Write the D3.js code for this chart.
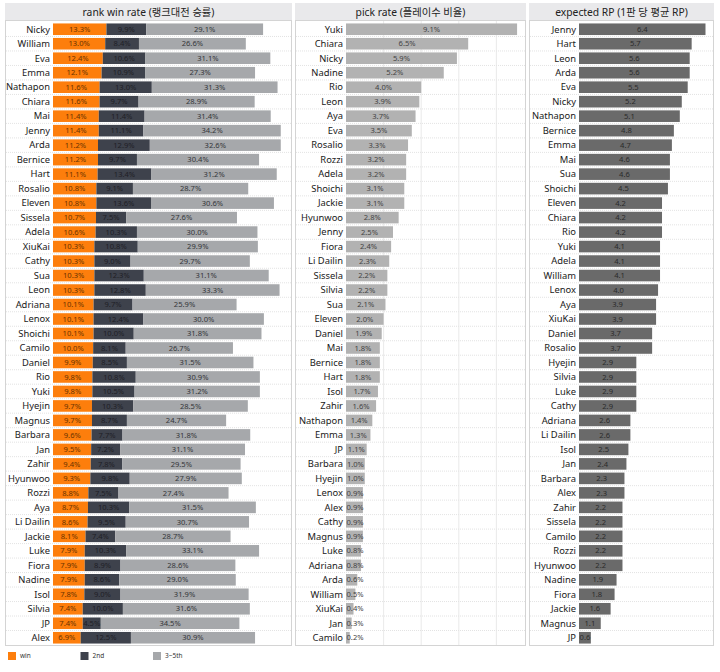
<!DOCTYPE html>
<html>
<head>
<meta charset="utf-8">
<title>rank stats</title>
<style>
  body { margin: 0; background: #fff; }
  text { font-family: "Noto Sans", "Noto Sans CJK KR", sans-serif; }
</style>
</head>
<body>
<script src="https://d3js.org/d3.v7.min.js"></script>
<svg width="720" height="672" id="mainsvg"></svg>
<script>
// rank win rate panel
const rankNames = ["Nicky","William","Eva","Emma","Nathapon","Chiara","Mai","Jenny","Arda","Bernice","Hart","Rosalio","Eleven","Sissela","Adela","XiuKai","Cathy","Sua","Leon","Adriana","Lenox","Shoichi","Camilo","Daniel","Rio","Yuki","Hyejin","Magnus","Barbara","Jan","Zahir","Hyunwoo","Rozzi","Aya","Li Dailin","Jackie","Luke","Fiora","Nadine","Isol","Silvia","JP","Alex"];
const winPct = [13.3,13.0,12.4,12.1,11.6,11.6,11.4,11.4,11.2,11.2,11.1,10.8,10.8,10.7,10.6,10.3,10.3,10.3,10.3,10.1,10.1,10.1,10.0,9.9,9.8,9.8,9.7,9.7,9.6,9.5,9.4,9.3,8.8,8.7,8.6,8.1,7.9,7.9,7.9,7.8,7.4,7.4,6.9];
const secondPct = [9.9,8.4,10.6,10.9,13.0,9.7,11.4,11.1,12.9,9.7,13.4,9.1,13.6,7.5,10.3,10.8,9.0,12.3,12.8,9.7,12.4,10.0,8.1,8.5,10.8,10.5,10.3,8.7,7.7,7.2,7.8,9.8,7.5,10.3,9.5,7.4,10.3,8.9,8.6,9.0,10.0,4.5,12.5];
const thirdFifthPct = [29.1,26.6,31.1,27.3,31.3,28.9,31.4,34.2,32.6,30.4,31.2,28.7,30.6,27.6,30.0,29.9,29.7,31.1,33.3,25.9,30.0,31.8,26.7,31.5,30.9,31.2,28.5,24.7,31.8,31.1,29.5,27.9,27.4,31.5,30.7,28.7,33.1,28.6,29.0,31.9,31.6,34.5,30.9];
const seriesKeys = ["win","2nd","3~5th"];

// pick rate panel
const pickNames = ["Yuki","Chiara","Nicky","Nadine","Rio","Leon","Aya","Eva","Rosalio","Rozzi","Adela","Shoichi","Jackie","Hyunwoo","Jenny","Fiora","Li Dailin","Sissela","Silvia","Sua","Eleven","Daniel","Mai","Bernice","Hart","Isol","Zahir","Nathapon","Emma","JP","Barbara","Hyejin","Lenox","Alex","Cathy","Magnus","Luke","Adriana","Arda","William","XiuKai","Jan","Camilo"];
const pickPct = [9.1,6.5,5.9,5.2,4.0,3.9,3.7,3.5,3.3,3.2,3.2,3.1,3.1,2.8,2.5,2.4,2.3,2.2,2.2,2.1,2.0,1.9,1.8,1.8,1.8,1.7,1.6,1.4,1.3,1.1,1.0,1.0,0.9,0.9,0.9,0.9,0.8,0.8,0.6,0.5,0.4,0.3,0.2];

// expected RP panel
const rpNames = ["Jenny","Hart","Leon","Arda","Eva","Nicky","Nathapon","Bernice","Emma","Mai","Sua","Shoichi","Eleven","Chiara","Rio","Yuki","Adela","William","Lenox","Aya","XiuKai","Daniel","Rosalio","Hyejin","Silvia","Luke","Cathy","Adriana","Li Dailin","Isol","Jan","Barbara","Alex","Zahir","Sissela","Camilo","Rozzi","Hyunwoo","Nadine","Fiora","Jackie","Magnus","JP"];
const rpVals = [6.4,5.7,5.6,5.6,5.5,5.2,5.1,4.8,4.7,4.6,4.6,4.5,4.2,4.2,4.2,4.1,4.1,4.1,4.0,3.9,3.9,3.7,3.7,2.9,2.9,2.9,2.9,2.6,2.6,2.5,2.4,2.3,2.3,2.2,2.2,2.2,2.2,2.2,1.9,1.8,1.6,1.1,0.6];

const titles = ["rank win rate (랭크대전 승률)", "pick rate (플레이수 비율)", "expected RP (1판 당 평균 RP)"];

const svg = d3.select('#mainsvg');
const plotTop = 22, plotBottom = 645;

const segColor = d3.scaleOrdinal().domain(seriesKeys).range(["#fd7e0c", "#3e424c", "#a6a8ab"]);
const segText = d3.scaleOrdinal().domain(seriesKeys).range(["#6b3300", "#1e2026", "#34363a"]);

function panel(cfg) {
  const g = svg.append("g");
  const y = d3.scaleBand().domain(cfg.names).range([plotTop, plotBottom]).paddingInner(0.2).paddingOuter(0.1);
  const x = d3.scaleLinear().domain([0, cfg.max]).range([cfg.x0, cfg.x1]);

  // header
  g.append("rect").attr("x", cfg.left).attr("y", 3).attr("width", cfg.right - cfg.left).attr("height", 17)
    .attr("fill", "#e9e9eb");
  g.append("text").attr("x", (cfg.left + cfg.right) / 2).attr("y", 15.5).attr("text-anchor", "middle")
    .attr("font-size", 10.3).attr("fill", "#222").text(cfg.title);

  // frame
  g.append("rect").attr("x", cfg.left + 0.5).attr("y", 20.5).attr("width", cfg.right - cfg.left - 1).attr("height", plotBottom - 20)
    .attr("fill", "none").attr("stroke", "#d4d4d4");

  // gridlines
  const step = y.step();
  g.append("g").selectAll("line").data(cfg.names.slice(1)).join("line")
    .attr("x1", cfg.left + 1).attr("x2", cfg.right - 1)
    .attr("y1", d => y(d) - step * 0.1).attr("y2", d => y(d) - step * 0.1)
    .attr("stroke", "#dcdcdc").attr("stroke-dasharray", "1,1").attr("stroke-width", 0.8);
  if (cfg.ticks) {
    g.append("g").selectAll("line").data(cfg.ticks).join("line")
      .attr("x1", d => x(d)).attr("x2", d => x(d)).attr("y1", 21).attr("y2", plotBottom)
      .attr("stroke", "#e4e4e4").attr("stroke-width", 0.8);
  }

  // category labels
  g.append("g").selectAll("text").data(cfg.names).join("text")
    .attr("x", cfg.x0 - 3).attr("y", d => y(d) + y.bandwidth() / 2)
    .attr("dy", "0.35em").attr("text-anchor", "end").attr("font-size", 9.4).attr("fill", "#1a1a1a")
    .text(d => d);
  return { g, x, y };
}

// panel 1: stacked bars
{
  const { g, x, y } = panel({ names: rankNames, max: 59, x0: 53, x1: 290, left: 5, right: 292, title: titles[0] });
  const rows = rankNames.map((n, i) => ({ name: n, "win": winPct[i], "2nd": secondPct[i], "3~5th": thirdFifthPct[i] }));
  const stack = d3.stack().keys(seriesKeys)(rows);
  const layer = g.append("g").selectAll("g").data(stack).join("g");
  layer.selectAll("rect").data(d => d.map(v => ({ v, key: d.key }))).join("rect")
    .attr("x", d => x(d.v[0])).attr("width", d => x(d.v[1]) - x(d.v[0]))
    .attr("y", d => y(d.v.data.name)).attr("height", y.bandwidth())
    .attr("fill", d => segColor(d.key));
  layer.selectAll("text").data(d => d.map(v => ({ v, key: d.key }))).join("text")
    .attr("x", d => (x(d.v[0]) + x(d.v[1])) / 2).attr("y", d => y(d.v.data.name) + y.bandwidth() / 2)
    .attr("dy", "0.35em").attr("text-anchor", "middle").attr("font-size", 7.6)
    .attr("fill", d => segText(d.key))
    .text(d => d.v.data[d.key].toFixed(1) + "%");

  // legend
  const lg = svg.append("g").selectAll("g").data(seriesKeys).join("g")
    .attr("transform", (d, i) => `translate(${8 + i * 72.5},652)`);
  lg.append("rect").attr("width", 8).attr("height", 8).attr("fill", d => segColor(d));
  lg.append("text").attr("x", 12).attr("y", 4).attr("dy", "0.35em").attr("font-size", 6.5).attr("fill", "#333").text(d => d);
}

function simplePanel(cfg, vals, fill, textFill, fmt) {
  const { g, x, y } = panel(cfg);
  g.append("g").selectAll("rect").data(cfg.names).join("rect")
    .attr("x", x(0)).attr("y", d => y(d)).attr("height", y.bandwidth())
    .attr("width", (d, i) => x(vals[i]) - x(0)).attr("fill", fill);
  g.append("g").selectAll("text").data(cfg.names).join("text")
    .attr("y", d => y(d) + y.bandwidth() / 2).attr("dy", "0.35em")
    .attr("font-size", 7.6).attr("fill", textFill).attr("text-anchor", "middle")
    .text((d, i) => fmt(vals[i]))
    .attr("x", function (d, i) {
      const w = this.getComputedTextLength();
      return Math.max((x(0) + x(vals[i])) / 2, x(0) + w / 2 + 0.5);
    });
}

simplePanel({ names: pickNames, max: 9.5, x0: 346, x1: 524.6, left: 295, right: 526, title: titles[1], ticks: [2, 4, 6, 8] },
  pickPct, "#b2b2b2", "#444", v => v.toFixed(1) + "%");

simplePanel({ names: rpNames, max: 6.8, x0: 579, x1: 713.4, left: 529, right: 714, title: titles[2] },
  rpVals, "#6a6a6a", "#2a2a2a", v => v.toFixed(1));
</script>
</body>
</html>
